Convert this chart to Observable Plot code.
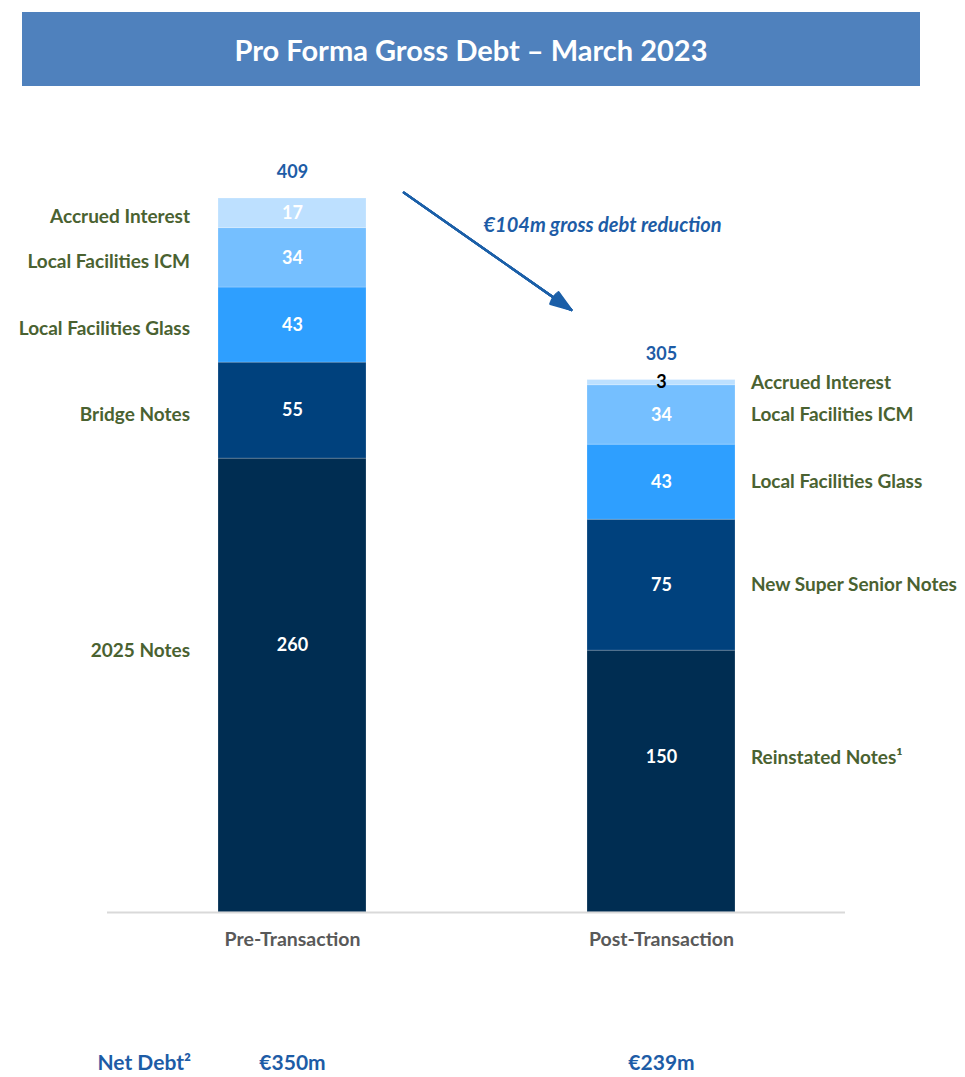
<!DOCTYPE html>
<html>
<head>
<meta charset="utf-8">
<script src="https://cdn.jsdelivr.net/npm/d3@7"></script>
<script src="https://cdn.jsdelivr.net/npm/@observablehq/plot@0.6"></script>
<style>
  html, body { margin: 0; padding: 0; background: #fff; }
  body { width: 965px; height: 1077px; overflow: hidden; font-family: Lato, "Open Sans", sans-serif; }
  #banner {
    margin: 12px 0 0 22px; width: 898px; height: 74px; background: #4F81BD;
    color: #fff; font-weight: 700; font-size: 29px; display: flex; align-items: center; justify-content: center;
  }
  #chart svg { display: block; }
</style>
</head>
<body>
<div id="banner">Pro Forma Gross Debt – March 2023</div>
<div id="chart"></div>
<script>
const title = "Pro Forma Gross Debt – March 2023";
const categories = ["Pre-Transaction", "Post-Transaction"];
const tiers = ["Notes", "Senior", "Glass", "ICM", "Accrued"];
const preNames = ["2025 Notes", "Bridge Notes", "Local Facilities Glass", "Local Facilities ICM", "Accrued Interest"];
const preValues = [260, 55, 43, 34, 17];
const postNames = ["Reinstated Notes¹", "New Super Senior Notes", "Local Facilities Glass", "Local Facilities ICM", "Accrued Interest"];
const postValues = [150, 75, 43, 34, 3];
const netDebtLabel = "Net Debt²";
const netDebt = ["€350m", "€239m"];
const tierColors = ["#002D52", "#00417D", "#2E9FFF", "#75BFFF", "#BDE0FF"];

const rows = [];
[[preNames, preValues], [postNames, postValues]].forEach(([names, values], ci) => {
  let acc = 0;
  values.forEach((v, i) => {
    rows.push({category: categories[ci], tier: tiers[i], name: names[i], value: v, y1: acc, y2: acc + v, mid: acc + v / 2});
    acc += v;
  });
});
const totals = categories.map(c => ({category: c, total: d3.sum(rows.filter(r => r.category === c), r => r.value)}));
const preTotal = totals[0].total, postTotal = totals[1].total;
const reductionLabel = `€${preTotal - postTotal}m gross debt reduction`;

const blue = "#1D5CA6";
const green = "#4A6231";
const font = "Lato, 'Open Sans', sans-serif";
const numSize = 18, labSize = 19;

const isBottom = r => r.tier === tiers[0];
const pre = r => r.category === categories[0];
const post = r => r.category === categories[1];

const arrowSpec = (angle, len) => Plot.arrow([0], {
  x1: () => categories[0], y1: () => preTotal + 48,
  x2: () => categories[1], y2: () => postTotal + 4,
  insetStart: 136, insetEnd: 110,
  stroke: "#1B5FA8", strokeWidth: 2.2, headLength: len, headAngle: angle
});

const plot = Plot.plot({
  width: 965,
  height: 991,
  marginTop: 112,
  marginBottom: 165,
  marginLeft: 107,
  marginRight: 120,
  style: {fontFamily: font, background: "transparent"},
  x: {domain: categories, paddingInner: 0.6, paddingOuter: 0.3, axis: null},
  y: {domain: [0, preTotal], axis: null},
  color: {domain: tiers, range: tierColors},
  marks: [
    Plot.barY(rows, {x: "category", y1: "y1", y2: "y2", fill: "tier", stroke: "#ffffff", strokeOpacity: 0.25, strokeWidth: 0.8}),
    Plot.ruleY([0], {stroke: "#D9D9D9", strokeWidth: 2}),
    // values inside bars
    Plot.text(rows.filter(r => !isBottom(r) && r.value >= 10), {x: "category", y: "mid", text: d => String(d.value), fill: "white", fontSize: numSize, fontWeight: 700}),
    Plot.text(rows.filter(r => r.value < 10), {x: "category", y: "mid", text: d => String(d.value), fill: "black", fontSize: numSize, fontWeight: 700}),
    Plot.text(rows.filter(r => isBottom(r) && pre(r)), {x: "category", y: "mid", dy: -40, text: d => String(d.value), fill: "white", fontSize: numSize, fontWeight: 700}),
    Plot.text(rows.filter(r => isBottom(r) && post(r)), {x: "category", y: "mid", dy: -24, text: d => String(d.value), fill: "white", fontSize: numSize, fontWeight: 700}),
    // side labels pre (left)
    Plot.text(rows.filter(r => pre(r) && !isBottom(r)), {x: "category", y: "mid", text: "name", dx: -102.5, dy: 4, textAnchor: "end", fill: green, fontSize: labSize, fontWeight: 700}),
    Plot.text(rows.filter(r => pre(r) && isBottom(r)), {x: "category", y: "mid", dy: -35, text: "name", dx: -102.5, textAnchor: "end", fill: green, fontSize: labSize, fontWeight: 700}),
    // side labels post (right)
    Plot.text(rows.filter(r => post(r) && !isBottom(r)), {x: "category", y: "mid", text: "name", dx: 89.5, textAnchor: "start", fill: green, fontSize: labSize, fontWeight: 700}),
    Plot.text(rows.filter(r => post(r) && isBottom(r)), {x: "category", y: "mid", dy: -24, text: "name", dx: 89.5, textAnchor: "start", fill: green, fontSize: labSize, fontWeight: 700}),
    // totals
    Plot.text(totals, {x: "category", y: "total", text: d => String(d.total), dy: -26, fill: blue, fontSize: numSize, fontWeight: 700}),
    // category labels
    Plot.text(categories, {x: d => d, y: () => 0, dy: 27, text: d => d, fill: "#595959", fontSize: 19.5, fontWeight: 700}),
    // net debt row
    Plot.text([netDebtLabel], {x: () => categories[0], y: () => 0, dy: 151, dx: -101.5, textAnchor: "end", text: d => d, fill: blue, fontSize: 21, fontWeight: 700}),
    Plot.text(netDebt, {x: (d, i) => categories[i], y: () => 0, dy: 151, text: d => d, fill: blue, fontSize: 21, fontWeight: 700}),
    // arrow annotation
    ...[6, 14, 22, 30, 38].map(a => arrowSpec(a, 15)),
    Plot.text([reductionLabel], {x: () => categories[1], y: () => postTotal + 88.5, dx: -59, text: d => d, fill: blue, fontSize: 20, fontWeight: 700, fontStyle: "italic"})
  ]
});
document.getElementById("chart").appendChild(plot);
</script>
</body>
</html>
